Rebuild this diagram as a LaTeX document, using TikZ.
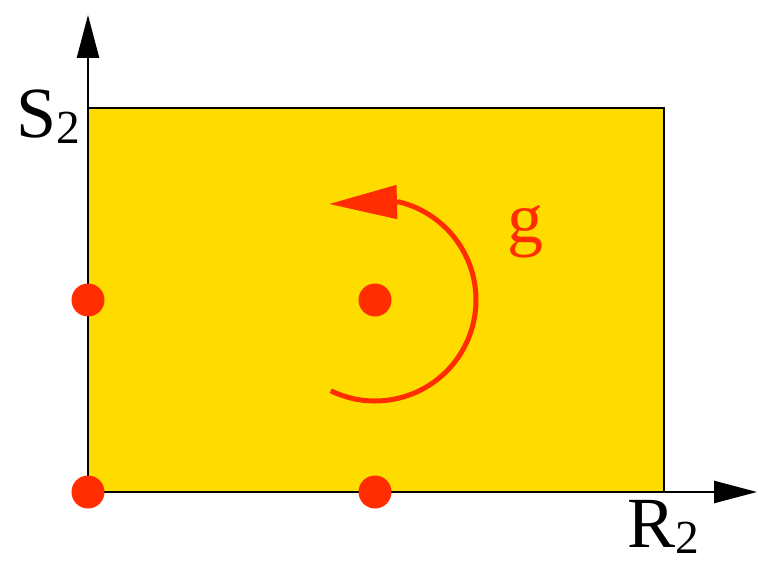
\documentclass[tikz,border=0pt]{standalone}
\usepackage{fontspec}
\setmainfont{Liberation Serif}
\usetikzlibrary{arrows.meta}
\definecolor{plane}{RGB}{255,220,0}
\definecolor{orbit}{RGB}{255,45,0}
\tikzset{
  fixpt/.style={circle,fill=orbit,inner sep=0pt,minimum size=0.66cm},
  axis/.style={line width=0.05cm,-{Triangle[length=0.86cm,width=0.44cm]}},
  lbl/.style={font=\fontsize{41}{41}\selectfont,inner sep=0pt},
}
\newcommand\subtwo{\raisebox{-0.08em}{\fontsize{27}{27}\selectfont 2}}

\begin{document}
\begin{tikzpicture}[x=0.02cm,y=0.02cm]
\useasboundingbox (0,0) rectangle (758,564);
% the strip
\filldraw[fill=plane,draw=black,line width=0.055cm] (88,72) rectangle (664,456);
% axes
\coordinate (o) at (88,72);
\coordinate (ytip) at (88,549);
\coordinate (xtip) at (757,72);
\draw[axis] (o) -- (ytip);
\draw[axis] (o) -- (xtip);
\node[lbl] (s2) at (48,447) {S\subtwo};
\node[lbl] (r2) at (663,37) {R\subtwo};
% fixed points
\node[fixpt] (p1) at (88,264) {};
\node[fixpt] (p2) at (375,264) {};
\node[fixpt] (p3) at (88,72) {};
\node[fixpt] (p4) at (375,72) {};
% the rotation g
\coordinate (gtip) at (329,360);
\draw[orbit,line width=0.1cm,-{Triangle[length=1.36cm,width=0.66cm]}]
  (p2.center) ++(-116:101) arc[start angle=-116,end angle=76,radius=101] -- (gtip);
\node[lbl,text=orbit] (g) at (526,332) {g};
\end{tikzpicture}
\end{document}
